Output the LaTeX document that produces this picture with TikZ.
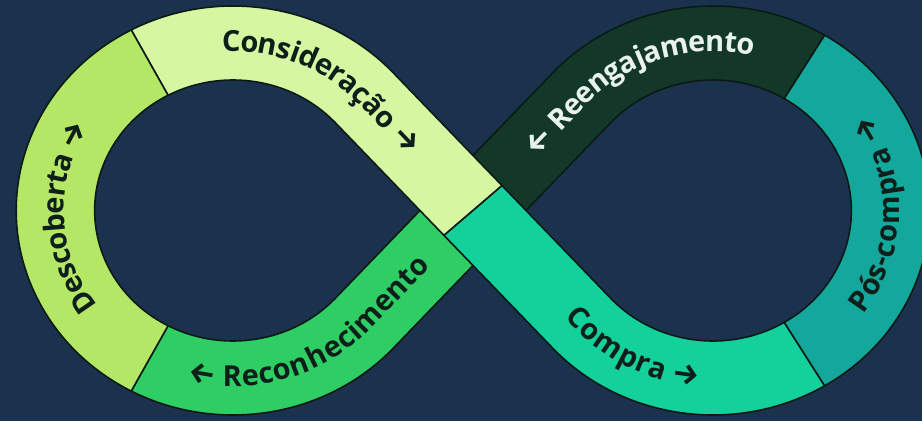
\documentclass[tikz,border=0pt]{standalone}
\usepackage{fontspec}
\setmainfont{Open Sans}
\newfontfamily\arrfam{Fira Sans}
\usetikzlibrary{decorations.text}
\definecolor{cBg}{RGB}{27,50,78}
\definecolor{cDesc}{RGB}{180,231,102}
\definecolor{cCons}{RGB}{215,246,162}
\definecolor{cReco}{RGB}{46,206,100}
\definecolor{cComp}{RGB}{20,208,155}
\definecolor{cPos}{RGB}{20,168,156}
\definecolor{cReen}{RGB}{19,56,39}
\definecolor{cLine}{RGB}{12,26,22}
\definecolor{cText}{RGB}{14,30,26}
\definecolor{cTextL}{RGB}{234,242,238}
\newcommand{\lblf}{\fontsize{29}{33}\selectfont\bfseries}
\newcommand{\arrowf}{\arrfam\fontsize{30}{34}\selectfont\bfseries}
\newcommand{\defL}[3]{\coordinate (#1) at ({-240+1.06*#3*cos(#2)},{#3*sin(#2)});}
\newcommand{\defR}[3]{\coordinate (#1) at ({240+1.06*#3*cos(#2)},{#3*sin(#2)});}
\tikzset{
  band/.style={draw=cLine, line width=1.6pt, line join=round},
  arcO/.style={x radius=216.77, y radius=204.5},
  arcI/.style={x radius=138.33, y radius=130.5},
  arcC/.style={x radius=177.55, y radius=167.5},
  lbl/.style={decorate, decoration={text along path, raise=-8.5pt, text color=cText}},
}
\begin{document}
\begin{tikzpicture}[x=1pt,y=1pt]
\useasboundingbox (0,0) rectangle (922,421);
\fill[fill=cBg] (0,0) rectangle (922,421);
\begin{scope}[shift={(473,210.5)}]
  \coordinate (P) at (0,0);
  \coordinate (L) at (-240,0);
  \coordinate (R) at (240,0);
  \coordinate (E1) at (29.02,24.90);
  \coordinate (E2) at (-29.02,-24.90);
  \coordinate (E3) at (-29.02,24.90);
  \coordinate (E4) at (29.02,-24.90);
  \defL{Lo118}{118}{204.5}
  \defL{Li118}{118}{130.5}
  \defL{Lo242}{242}{204.5}
  \defL{Li242}{242}{130.5}
  \defL{Lo42}{42.29}{204.5}
  \defL{Li42}{42.29}{130.5}
  \defL{Lom42}{-42.29}{204.5}
  \defL{Lim42}{-42.29}{130.5}
  \defL{Lc93}{93.5}{167.5}
  \defL{Lc255}{255.5}{167.5}
  \defL{Lc252}{252.6}{167.5}
  \defR{Ro59}{59}{204.5}
  \defR{Ri59}{59}{130.5}
  \defR{Rom59}{-59}{204.5}
  \defR{Rim59}{-59}{130.5}
  \defR{Ro138}{137.71}{204.5}
  \defR{Ri138}{137.71}{130.5}
  \defR{Ro222}{222.29}{204.5}
  \defR{Ri222}{222.29}{130.5}
  \defR{Rc222}{222.29}{167.5}
  \defR{Rc138}{137.71}{167.5}
  \defR{Rcm71}{-71.5}{167.5}
  \coordinate (Cs) at (97.8,-101.4);
  \coordinate (Rs) at (56.9,59.1);

  % lower crossing bands
  \filldraw[band, fill=cReen] (Ro59) arc[arcO, start angle=59, end angle=137.71]
    -- (E3) -- (E4) -- (Ri138) arc[arcI, start angle=137.71, end angle=59] -- cycle;
  \filldraw[band, fill=cReco] (E4) -- (Lom42) arc[arcO, start angle=-42.29, end angle=-118]
    -- (Li242) arc[arcI, start angle=-118, end angle=-42.29] -- (E3) -- cycle;
  % upper crossing bands
  \filldraw[band, fill=cCons] (Lo118) arc[arcO, start angle=118, end angle=42.29]
    -- (E1) -- (E2) -- (Li42) arc[arcI, start angle=42.29, end angle=118] -- cycle;
  \filldraw[band, fill=cComp] (E1) -- (Ri222) arc[arcI, start angle=222.29, end angle=301]
    -- (Rom59) arc[arcO, start angle=301, end angle=222.29] -- (E2) -- cycle;
  % side bands
  \filldraw[band, fill=cDesc] (Lo118) arc[arcO, start angle=118, end angle=242]
    -- (Li242) arc[arcI, start angle=242, end angle=118] -- cycle;
  \filldraw[band, fill=cPos] (Rom59) arc[arcO, start angle=-59, end angle=59]
    -- (Ri59) arc[arcI, start angle=59, end angle=-59] -- cycle;

  % labels
  \path[lbl, decoration={text align=center, text={|\lblf|Descoberta |\arrowf|→}}]
    (Lc252) arc[arcC, start angle=252.6, end angle=112.6];
  \path[lbl, decoration={text align=left, text={|\lblf|Consideração |\arrowf|→}}]
    (Lc93) arc[arcC, start angle=93.5, end angle=42.29] -- (P);
  \path[lbl, decoration={text align=left, text={|\lblf|Compra |\arrowf|→}}]
    (Cs) -- (Rc222) arc[arcC, start angle=222.29, end angle=300];
  \path[lbl, decoration={text align=center, text={|\lblf|Pós-compra |\arrowf|→}}]
    (Rcm71) arc[arcC, start angle=-71.5, end angle=68.5];
  \path[lbl, decoration={text align=left, text color=cTextL, text={|\arrowf|←|\lblf| Reengajamento}}]
    (Rs) -- (Rc138) arc[arcC, start angle=137.71, end angle=40];
  \path[lbl, decoration={text align=left, text={|\arrowf|←|\lblf| Reconhecimento}}]
    (Lc255) arc[arcC, start angle=255.5, end angle=317.71] -- (P);
\end{scope}
\end{tikzpicture}
\end{document}
